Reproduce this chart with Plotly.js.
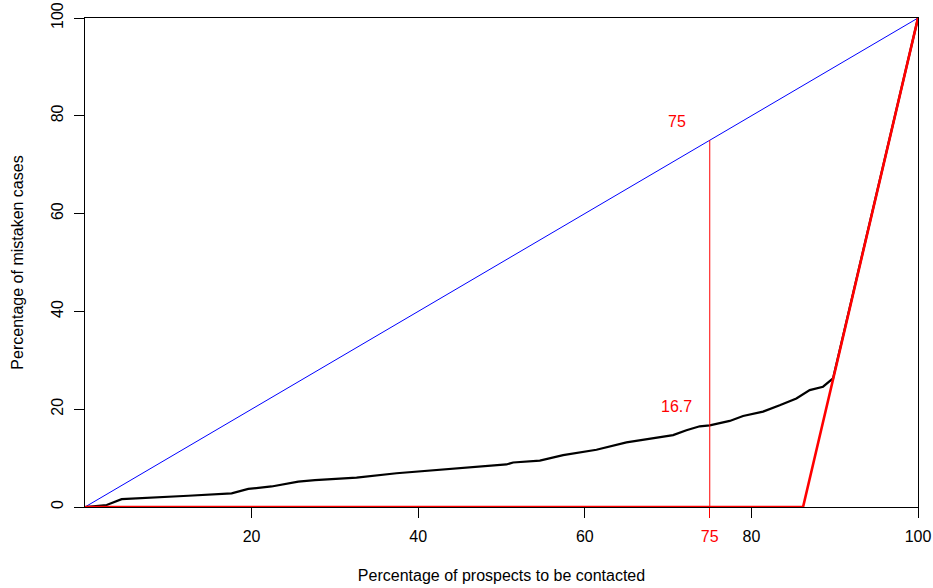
<!DOCTYPE html>
<html>
<head>
<meta charset="utf-8">
<script src="https://cdn.plot.ly/plotly-3.0.1.min.js"></script>
<style>html,body{margin:0;padding:0;background:#fff;}#chart{width:933px;height:588px;}</style>
</head>
<body>
<div id="chart"></div>
<script>
// Cumulative curve: percentage of prospects contacted vs percentage of mistaken cases
const modelX = [0, 1.5, 2.6, 4.4, 9.6, 12.4, 17.6, 19.6, 22.4, 25.6, 27.6, 32.6, 37.4, 43.0, 47.0, 50.6, 51.4, 54.6, 57.4, 61.4, 65.0, 67.8, 70.6, 72.2, 73.8, 75, 77.4, 79.0, 81.4, 83.4, 85.4, 87.0, 88.6, 89.8, 100];
const modelY = [0, 0.3, 0.4, 1.6, 2.0, 2.3, 2.8, 3.7, 4.2, 5.2, 5.5, 6.0, 6.9, 7.7, 8.2, 8.7, 9.1, 9.5, 10.6, 11.7, 13.2, 14.0, 14.7, 15.7, 16.5, 16.7, 17.6, 18.6, 19.5, 20.8, 22.2, 23.9, 24.6, 26.3, 100];
// Perfect model
const perfectX = [0, 86.2, 100];
const perfectY = [0, 0, 100];
// Random model
const randomX = [0, 100];
const randomY = [0, 100];
// Cut-off marker
const cutX = [75, 75];
const cutY = [0, 75];
const cutLabelRandom = "75";
const cutLabelModel = "16.7";
const cutModelValue = 16.7;
const xTicks = [20, 40, 60, 80, 100];
const xTickRed = [75];
const yTicks = [0, 20, 40, 60, 80, 100];

const traces = [
  {x: randomX, y: randomY, mode: 'lines', line: {color: '#0000FF', width: 1}, hoverinfo: 'skip'},
  {x: modelX, y: modelY, mode: 'lines', line: {color: '#000000', width: 2.2}, hoverinfo: 'skip'},
  {x: perfectX, y: perfectY, mode: 'lines', line: {color: '#FF0000', width: 2.6}, hoverinfo: 'skip'},
  {x: cutX, y: cutY, xaxis: 'x2', yaxis: 'y', mode: 'lines', line: {color: '#FF0000', width: 1}, hoverinfo: 'skip'}
];

const font = {family: '"Liberation Sans", Arial, sans-serif', size: 16, color: '#000'};

const layout = {
  width: 933, height: 588,
  margin: {l: 85, r: 15, t: 18, b: 81},
  paper_bgcolor: '#fff', plot_bgcolor: '#fff',
  showlegend: false,
  font: font,
  xaxis: {
    range: [0, 100], tickvals: xTicks, ticks: 'outside', ticklen: 10, tickwidth: 1, tickcolor: '#000',
    showline: true, mirror: true, linecolor: '#000', linewidth: 1, showgrid: false, zeroline: false,
    layer: 'below traces', tickfont: font, ticklabelstandoff: 5,
    title: {text: 'Percentage of prospects to be contacted', font: font, standoff: 25}
  },
  xaxis2: {
    overlaying: 'x', anchor: 'y', side: 'bottom', range: [0, 100], tickvals: xTickRed, ticktext: [cutLabelRandom],
    ticks: 'outside', ticklen: 10, tickwidth: 1, tickcolor: '#FF0000', showline: false, showgrid: false, zeroline: false,
    ticklabelstandoff: 5, layer: 'below traces',
    tickfont: {family: font.family, size: 16, color: '#FF0000'}
  },
  yaxis: {
    range: [0, 100], tickvals: yTicks, ticks: 'outside', ticklen: 10, tickwidth: 1, tickcolor: '#000', tickangle: -90,
    showline: true, mirror: true, linecolor: '#000', linewidth: 1, showgrid: false, zeroline: false,
    layer: 'below traces', tickfont: font, ticklabelstandoff: 5,
    title: {text: 'Percentage of mistaken cases', font: font, standoff: 20}
  },
  annotations: [
    {x: 75, y: 75, xref: 'x', yref: 'y', text: cutLabelRandom, showarrow: false, xshift: -33, yshift: 19,
     font: {family: font.family, size: 16, color: '#FF0000'}},
    {x: 75, y: cutModelValue, xref: 'x', yref: 'y', text: cutLabelModel, showarrow: false, xshift: -33, yshift: 18.5,
     font: {family: font.family, size: 16, color: '#FF0000'}}
  ]
};

Plotly.newPlot('chart', traces, layout, {staticPlot: true, displayModeBar: false});
</script>
</body>
</html>
